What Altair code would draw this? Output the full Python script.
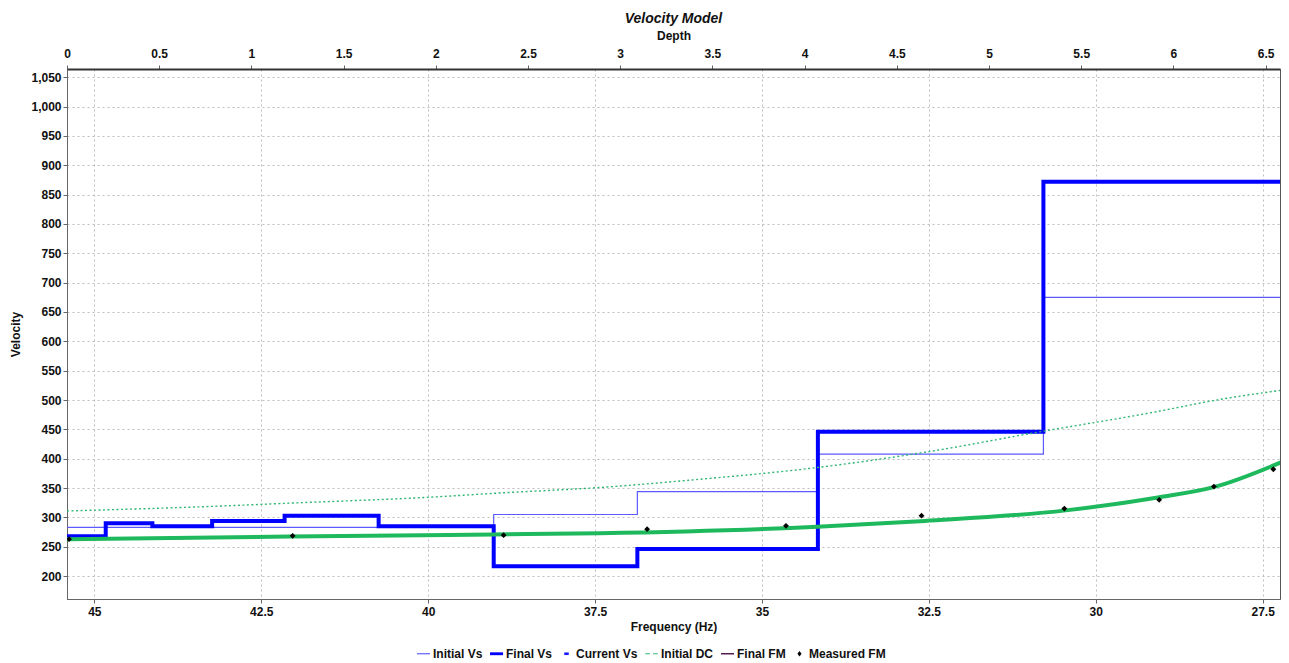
import altair as alt
import pandas as pd

# ---------------- data ----------------
# Vs profiles, plotted against depth (top axis)
initial_depth = [0.0, 2.314, 3.093, 4.072, 5.295]
initial_vs = [283, 305, 344, 408, 675]
final_depth = [0.0, 0.21, 0.463, 0.787, 1.18, 1.69, 2.314, 3.093, 4.072, 5.295]
final_vs = [268, 290, 285, 294, 303, 285, 217, 246, 446, 872]
depth_end = 6.62

# dispersion curves, plotted against frequency (bottom axis)
dc_freq = [45.41, 43.43, 41.93, 39.88, 39.02, 37.43, 35.93, 34.17, 32.56, 30.78, 29.19, 28.14, 27.14]
dc_vel = [311, 318, 325, 335, 341, 351, 365, 385, 411, 447, 478, 501, 518]

fm_freq = [45.41, 42.08, 39.02, 37.43, 34.17, 32.56, 30.45, 29.07, 28.22, 27.14]
fm_vel = [263, 267.5, 271, 273, 284, 294, 312, 334, 352, 398]

meas_freq = [45.38, 42.03, 38.87, 36.72, 34.64, 32.61, 30.47, 29.05, 28.23, 27.34, 27.13]
meas_vel = [263, 268.6, 269.7, 280, 285.6, 303, 315, 330, 352.5, 382, 411]

# axes
depth_ticks = [0, 0.5, 1, 1.5, 2, 2.5, 3, 3.5, 4, 4.5, 5, 5.5, 6, 6.5]
freq_ticks = [45, 42.5, 40, 37.5, 35, 32.5, 30, 27.5]
vel_ticks = [200, 250, 300, 350, 400, 450, 500, 550, 600, 650, 700, 750, 800, 850, 900, 950, 1000, 1050]
depth_domain = [0, 6.578]
freq_domain = [27.24, 45.41]
vel_domain = [161, 1064]

legend_names = ["Initial Vs", "Final Vs", "Current Vs", "Initial DC", "Final FM", "Measured FM"]
legend_colors = ["#5a5aff", "#0000ff", "#1a1aff", "#2fb572", "#4b1548", "#000000"]

# ---------------- tables ----------------
init_df = pd.DataFrame({"d": initial_depth + [depth_end], "v": initial_vs + [initial_vs[-1]]})
final_df = pd.DataFrame({"d": final_depth + [depth_end], "v": final_vs + [final_vs[-1]]})
dc_df = pd.DataFrame({"f": dc_freq, "v": dc_vel})
fm_df = pd.DataFrame({"f": fm_freq, "v": fm_vel})
meas_df = pd.DataFrame({"f": meas_freq, "v": meas_vel})
leg_df = pd.DataFrame({"series": legend_names, "f": [36.0] * len(legend_names), "v": [0] * len(legend_names)})

FONT = "Liberation Sans"

Y = alt.Y(
    "v:Q",
    scale=alt.Scale(domain=vel_domain, nice=False, zero=False),
    axis=alt.Axis(
        title="Velocity", values=vel_ticks, labelExpr="format(datum.value, ',')", grid=True,
        labelFontWeight="bold", labelFontSize=12, titleFontSize=12, titleFontWeight="bold",
        titlePadding=8, tickSize=4, labelPadding=2,
    ),
)

X_depth = alt.X(
    "d:Q",
    scale=alt.Scale(domain=depth_domain, nice=False, zero=False),
    axis=alt.Axis(
        orient="top", title="Depth", values=depth_ticks, labelExpr="format(datum.value, '~g')", grid=False,
        labelFontWeight="bold", labelFontSize=12, titleFontSize=12, titleFontWeight="bold",
        tickSize=4, labelPadding=5, titlePadding=5, domainColor="#333", domainWidth=2,
        labelFlush=False,
    ),
)

X_freq = alt.X(
    "f:Q",
    scale=alt.Scale(domain=freq_domain, nice=False, zero=False, reverse=True),
    axis=alt.Axis(
        orient="bottom", title="Frequency (Hz)", values=freq_ticks, labelExpr="format(datum.value, '~g')",
        grid=True,
        labelFontWeight="bold", labelFontSize=12, titleFontSize=12, titleFontWeight="bold",
        tickSize=4, labelPadding=3, titlePadding=4, labelFlush=False,
    ),
)

init_line = alt.Chart(init_df).mark_line(
    interpolate="step-after", color="#5a5aff", strokeWidth=1.2, clip=True
).encode(x=X_depth, y=Y)

final_line = alt.Chart(final_df).mark_line(
    interpolate="step-after", color="#0000ff", strokeWidth=4, strokeJoin="miter", clip=True
).encode(x=X_depth, y=Y)

depth_group = alt.layer(init_line, final_line)

dc_line = alt.Chart(dc_df).mark_line(
    color="#2fb572", strokeWidth=1.4, strokeDash=[2, 2.5], interpolate="monotone", clip=True
).encode(x=X_freq, y=Y)

fm_line = alt.Chart(fm_df).mark_line(
    color="#1db95c", strokeWidth=4, interpolate="monotone", clip=True
).encode(x=X_freq, y=Y)

meas_pts = alt.Chart(meas_df).mark_point(
    shape="diamond", filled=True, color="#000000", size=34, opacity=1, clip=True
).encode(x=X_freq, y=Y)

legend_shapes = [
    "M-1,-0.09H1V0.09H-1Z",
    "M-1,-0.22H1V0.22H-1Z",
    "M-0.35,-0.2H0.35V0.2H-0.35Z",
    "M-0.95,-0.08H-0.25V0.08H-0.95Z M0.25,-0.08H0.95V0.08H0.25Z",
    "M-1,-0.11H1V0.11H-1Z",
    "M0,-0.42L0.32,0L0,0.42L-0.32,0Z",
]

legend_layer = alt.Chart(leg_df).mark_point(filled=True, opacity=1, clip=True).encode(
    x=X_freq,
    y=Y,
    color=alt.Color(
        "series:N",
        scale=alt.Scale(domain=legend_names, range=legend_colors),
        legend=alt.Legend(
            title=None, orient="none", direction="horizontal",
            legendX=350, legendY=578,
            symbolSize=169, symbolStrokeWidth=0,
            labelFont=FONT, labelFontSize=12, labelFontWeight="bold", labelColor="#111",
            labelOffset=3, columnPadding=7,
        ),
    ),
    shape=alt.Shape("series:N", scale=alt.Scale(domain=legend_names, range=legend_shapes)),
)

freq_group = alt.layer(dc_line, fm_line, meas_pts, legend_layer)

chart = (
    alt.layer(depth_group, freq_group)
    .resolve_scale(x="independent")
    .properties(
        width=1213,
        height=530,
        title=alt.TitleParams(
            "Velocity Model", fontStyle="italic", fontSize=14, fontWeight="bold",
            font=FONT, color="#111", anchor="middle", frame="group", offset=3,
        ),
        autosize=alt.AutoSizeParams(type="none"),
        padding={"left": 59, "top": 61, "right": 1, "bottom": 62},
    )
    .configure(font=FONT)
    .configure_view(stroke="#555", strokeWidth=1)
    .configure_axis(
        labelFont=FONT, titleFont=FONT, labelColor="#111", titleColor="#111",
        gridColor="#bdbdbd", gridDash=[2, 3], gridWidth=1,
        domainColor="#666", tickColor="#666",
    )
)

chart.save("out.html", embed_options={"renderer": "svg", "actions": False})
